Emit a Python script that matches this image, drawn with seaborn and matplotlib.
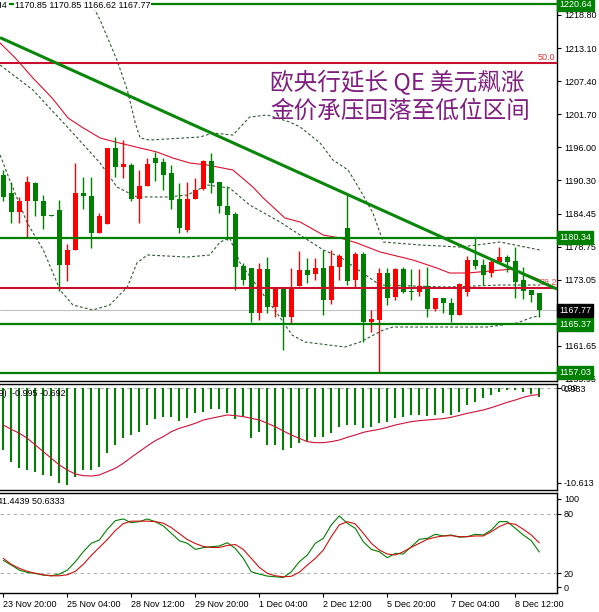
import numpy as np
import pandas as pd
import matplotlib
matplotlib.use("Agg")
import matplotlib.pyplot as plt
import matplotlib.transforms as mtransforms
import seaborn as sns

# ---------------- data ----------------
opens = [1191.2, 1188.1, 1184.7, 1186.6, 1189.8, 1186.7, 1184.1, 1185.1, 1175.6, 1178.2,
         1188.1, 1187.5, 1181.2, 1182.7, 1195.8, 1192.6, 1192.9, 1187.1, 1189.2, 1194.1,
         1193.4, 1191.5, 1187.1, 1181.7, 1187.1, 1188.7, 1193.6, 1189.9, 1185.8, 1184.4,
         1175.5, 1175.1, 1167.3, 1174.9, 1168.3, 1171.8, 1166.6, 1172.0, 1174.8, 1174.1,
         1175.1, 1169.6, 1175.3, 1182.0, 1173.0, 1177.5, 1165.8, 1166.2, 1174.2, 1170.1,
         1174.9, 1171.2, 1171.0, 1172.0, 1168.0, 1169.9, 1169.0, 1167.0, 1171.0, 1176.5,
         1175.7, 1174.3, 1176.2, 1177.0, 1176.4, 1173.0, 1171.3, 1170.85]
highs = [1192.0, 1190.0, 1187.4, 1191.0, 1190.0, 1187.7, 1184.2, 1186.9, 1179.3, 1193.2,
         1190.9, 1190.8, 1184.6, 1195.8, 1197.8, 1197.2, 1193.2, 1192.0, 1194.1, 1195.2,
         1194.1, 1192.9, 1189.7, 1190.0, 1190.6, 1193.8, 1194.9, 1190.0, 1189.2, 1184.7,
         1175.9, 1175.1, 1175.9, 1177.0, 1171.9, 1171.8, 1175.1, 1178.1, 1176.8, 1176.8,
         1178.2, 1178.2, 1177.5, 1188.0, 1177.9, 1177.9, 1167.9, 1175.1, 1175.1, 1175.1,
         1175.3, 1174.9, 1174.9, 1175.3, 1169.9, 1170.0, 1170.0, 1172.5, 1177.1, 1180.5,
         1176.6, 1176.8, 1178.7, 1177.4, 1178.8, 1175.2, 1171.3, 1170.85]
lows = [1186.6, 1182.9, 1182.9, 1180.5, 1184.1, 1181.8, 1184.0, 1171.2, 1172.9, 1178.2,
        1185.3, 1178.5, 1181.2, 1182.7, 1190.8, 1190.6, 1186.6, 1182.8, 1189.2, 1190.2,
        1188.6, 1185.3, 1181.1, 1181.4, 1187.0, 1188.5, 1188.0, 1184.6, 1179.9, 1171.3,
        1172.2, 1165.8, 1166.1, 1167.3, 1166.7, 1160.9, 1165.6, 1172.0, 1172.6, 1173.0,
        1167.0, 1168.9, 1173.0, 1172.2, 1171.9, 1162.4, 1164.1, 1157.0, 1168.7, 1169.5,
        1170.8, 1169.6, 1170.3, 1166.7, 1167.6, 1167.4, 1165.8, 1167.0, 1170.3, 1174.9,
        1172.2, 1173.6, 1175.9, 1174.5, 1169.9, 1169.7, 1169.3, 1166.62]
closes = [1187.4, 1184.7, 1186.7, 1190.0, 1186.6, 1184.1, 1184.1, 1175.6, 1178.2, 1188.0,
          1187.6, 1181.2, 1184.1, 1195.8, 1192.6, 1193.1, 1187.1, 1189.3, 1193.1, 1193.3,
          1191.2, 1186.9, 1182.0, 1187.1, 1188.5, 1193.6, 1189.7, 1185.8, 1184.3, 1175.3,
          1173.0, 1167.3, 1174.9, 1168.4, 1171.9, 1166.6, 1171.8, 1174.8, 1173.9, 1175.1,
          1169.6, 1175.5, 1177.1, 1172.9, 1177.5, 1165.8, 1166.3, 1174.2, 1169.9, 1174.9,
          1171.0, 1170.9, 1172.0, 1168.1, 1169.9, 1169.0, 1167.0, 1172.3, 1176.5, 1175.5,
          1173.9, 1176.2, 1177.0, 1176.2, 1172.7, 1171.2, 1170.4, 1167.77]

# moving average (red) and Bollinger bands (dashed), read at candle positions
ma_x = [-0.4, 1.5, 3.7, 6.1, 8.1, 9.8, 12.1, 14.0, 17.1, 19.2, 21.2, 23.3, 25.5, 28.7,
        31.2, 32.5, 35.2, 37.1, 40.0, 42.1, 44.2, 47.1, 51.2, 54.2, 55.8, 58.0, 63.7, 66.2, 67.1]
ma_y = [1213.96, 1211.37, 1207.92, 1204.47, 1201.01, 1199.46, 1197.56, 1196.87, 1195.83,
        1195.14, 1194.10, 1193.24, 1192.89, 1192.03, 1189.09, 1187.19, 1183.74, 1183.05,
        1180.80, 1180.29, 1179.42, 1177.87, 1176.49, 1175.10, 1174.24, 1174.24, 1174.93,
        1173.55, 1173.03]
bb_up_x = [10.2, 10.8, 12.1, 14.2, 15.5, 16.5, 17.1, 18.3, 24.6, 26.2, 28.7, 30.8, 33.0,
           35.8, 37.1, 39.6, 41.2, 43.1, 44.6, 46.2, 47.5, 52.1, 57.1, 62.1, 67.1]
bb_up_y = [1223.12, 1221.39, 1217.94, 1211.03, 1205.85, 1200.15, 1197.56, 1197.21, 1197.73,
           1198.42, 1198.07, 1201.18, 1201.53, 1200.32, 1199.46, 1196.69, 1193.76, 1192.03,
           1188.58, 1184.60, 1179.59, 1179.08, 1178.73, 1179.59, 1178.21]
bb_mid_x = [-0.4, 3.7, 8.0, 12.1, 14.2, 16.7, 20.5, 23.0, 25.5, 28.3, 30.8, 34.6, 37.1,
            40.0, 42.1, 45.8, 47.1, 55.5, 62.1, 67.1]
bb_mid_y = [1210.16, 1205.85, 1199.46, 1193.24, 1189.09, 1187.37, 1187.37, 1187.71, 1189.44,
            1188.92, 1185.98, 1183.05, 1180.80, 1178.21, 1177.00, 1173.38, 1172.17, 1171.82,
            1172.17, 1172.17]
bb_low_x = [-0.4, 0.8, 3.0, 5.0, 7.1, 8.7, 11.2, 13.3, 15.5, 16.7, 18.0, 23.0, 25.8, 27.1,
            28.3, 29.6, 34.2, 36.1, 37.7, 42.7, 44.6, 47.5, 48.7, 60.5, 64.2, 66.2, 67.1]
bb_low_y = [1194.62, 1190.30, 1182.88, 1178.21, 1171.30, 1168.71, 1167.85, 1168.71, 1171.82,
            1175.97, 1177.35, 1177.00, 1177.35, 1179.59, 1180.29, 1175.97, 1167.33, 1163.53,
            1162.32, 1161.46, 1162.32, 1164.40, 1164.91, 1164.91, 1165.60, 1166.64, 1166.81]

macd_main = [-6.75, -8.03, -8.75, -8.94, -9.12, -9.49, -9.60, -10.33, -10.60, -9.74,
             -8.94, -8.94, -8.58, -7.11, -6.20, -5.47, -5.11, -4.75, -4.02, -3.39,
             -3.10, -3.10, -3.54, -3.28, -2.67, -2.56, -2.30, -2.30, -2.74, -3.39,
             -3.10, -5.47, -4.75, -6.20, -6.20, -6.75, -6.56, -6.02, -5.73, -5.29,
             -5.29, -4.86, -4.20, -4.02, -4.02, -4.38, -4.20, -3.83, -3.65, -3.28,
             -3.10, -2.92, -2.92, -3.03, -2.92, -2.74, -2.92, -2.56, -1.83, -1.47,
             -1.09, -0.73, -0.37, -0.19, -0.19, -0.37, -0.62, -0.995]
macd_signal = [-4.02, -4.49, -4.92, -5.47, -6.20, -6.93, -7.66, -8.39, -8.94, -9.38,
               -9.56, -9.60, -9.49, -9.12, -8.75, -8.21, -7.55, -6.93, -6.31, -5.73,
               -5.29, -4.75, -4.38, -4.12, -3.83, -3.47, -3.28, -3.10, -2.92, -2.99,
               -3.10, -3.28, -3.47, -3.83, -4.20, -4.67, -5.11, -5.47, -5.84, -5.95,
               -5.95, -5.84, -5.66, -5.36, -5.11, -4.82, -4.64, -4.49, -4.27, -4.02,
               -3.83, -3.65, -3.54, -3.47, -3.39, -3.32, -3.17, -2.96, -2.74, -2.56,
               -2.37, -2.12, -1.83, -1.53, -1.28, -0.99, -0.77, -0.692]
stoch_k = [33.0, 28.3, 23.2, 20.9, 19.9, 18.2, 17.5, 19.2, 23.2, 31.6,
           41.7, 50.2, 53.5, 64.3, 73.0, 74.7, 71.0, 72.0, 74.7, 72.0,
           67.7, 60.3, 52.8, 50.2, 44.1, 45.8, 46.8, 47.5, 50.8, 45.1,
           35.0, 21.5, 19.2, 17.2, 16.5, 15.8, 21.5, 31.6, 38.4, 50.2,
           55.2, 68.7, 77.8, 70.4, 65.3, 51.8, 44.1, 41.7, 35.7, 40.1,
           39.4, 46.8, 54.2, 55.2, 59.3, 57.6, 58.6, 56.3, 56.9, 59.3,
           58.6, 63.6, 72.0, 72.0, 65.3, 58.6, 52.8, 41.44]
stoch_d = [35.0, 29.0, 25.0, 22.0, 20.0, 18.5, 17.5, 17.5, 18.5, 22.0,
           29.0, 38.0, 46.0, 54.0, 63.0, 70.0, 72.5, 72.5, 72.5, 72.0,
           70.5, 66.0, 60.0, 54.0, 50.0, 47.0, 46.0, 46.0, 48.0, 49.0,
           44.0, 35.0, 26.0, 20.0, 17.5, 16.5, 17.0, 21.0, 28.3, 35.0,
           43.4, 56.9, 68.7, 72.0, 69.7, 60.3, 50.2, 43.4, 39.4, 38.4,
           41.7, 46.2, 50.2, 54.2, 56.3, 57.6, 57.9, 56.9, 56.9, 57.6,
           57.6, 61.9, 67.0, 70.4, 69.4, 64.3, 58.6, 50.63]

green_levels = [1220.64, 1180.34, 1165.37, 1157.03]
fib_levels = [1210.50, 1171.65]
fib_labels = ["50.0", "38.2"]
bid_price = 1167.77
trend_x = [-0.41, 69.2]
trend_y = [1214.9, 1171.47]

price_ticks = [1218.80, 1213.10, 1207.40, 1201.70, 1196.00, 1190.30,
               1184.45, 1178.75, 1173.05, 1161.65, 1155.95]
time_tick_idx = [0, 8, 16, 24, 32, 40, 48, 56, 64]
time_labels = ["23 Nov 20:00", "25 Nov 04:00", "28 Nov 12:00", "29 Nov 20:00",
               "1 Dec 04:00", "2 Dec 12:00", "5 Dec 20:00", "7 Dec 04:00", "8 Dec 12:00"]
title_lines = ["欧央行延长 QE 美元飙涨", "金价承压回落至低位区间"]
header_main = "1170.85 1170.85 1166.62 1167.77"
header_macd = "-0.995 -0.692"
header_stoch = "1.4439 50.6333"

# ---------------- style ----------------
sns.set_theme(style="white")
plt.rcParams["font.family"] = ["Liberation Sans", "Noto Sans CJK SC", "DejaVu Sans"]
plt.rcParams["axes.edgecolor"] = "black"
plt.rcParams["axes.linewidth"] = 1.0

GREEN = "#008000"
RED = "#ff0000"
FIBRED = "#c8102e"
BBCOL = "#2f5a2f"
FS = 6.5

W, H = 599, 612
fig = plt.figure(figsize=(W / 100, H / 100), dpi=100)
fig.patch.set_facecolor("white")


def fx(px):
    return px / W


def fy(py):
    return 1 - py / H


ax1 = fig.add_axes([0, fy(381), fx(557), 381 / H])
ax2 = fig.add_axes([0, fy(490), fx(557), 106 / H])
ax3 = fig.add_axes([0, fy(593), fx(557), 100 / H])
XL = (-0.4125, 69.2125)
for ax in (ax1, ax2, ax3):
    ax.set_xlim(*XL)
    ax.set_facecolor("white")
    ax.spines["left"].set_visible(False)
    ax.yaxis.tick_right()
    ax.tick_params(axis="y", which="both", direction="out", length=3, width=0.8,
                   pad=2, labelsize=FS, right=True, left=False,
                   labelright=True, labelleft=False, colors="black")
ax1.spines["top"].set_visible(False)

# ---------------- main price panel ----------------
ax1.set_ylim(1155.59, 1221.39)
df = pd.DataFrame({"i": np.arange(len(opens)), "o": opens, "h": highs,
                   "l": lows, "c": closes})
cols = np.where(df["c"] > df["o"], RED, GREEN)
body_lo = np.minimum(df["o"], df["c"])
body_h = np.maximum((df["c"] - df["o"]).abs(), 0.17)

sns.lineplot(x=ma_x, y=ma_y, ax=ax1, color="#e0102e", linewidth=0.8, sort=False, zorder=2)
for bx, by in ((bb_up_x, bb_up_y), (bb_mid_x, bb_mid_y), (bb_low_x, bb_low_y)):
    sns.lineplot(x=bx, y=by, ax=ax1, color=BBCOL, linewidth=0.8,
                 linestyle=(0, (2.5, 2.0)), sort=False, zorder=2)

ax1.vlines(df["i"], df["l"], df["h"], colors=cols, linewidth=1.0, zorder=3)
ax1.bar(df["i"], body_h, bottom=body_lo, width=0.62, color=cols, linewidth=0, zorder=3)

for lv in green_levels:
    ax1.axhline(lv, color=GREEN, linewidth=1.6, zorder=4)
for lv in fib_levels:
    ax1.axhline(lv, color=FIBRED, linewidth=1.5, zorder=4)
ax1.axhline(bid_price, color="#c0c0c0", linewidth=0.8, zorder=1)
ax1.plot(trend_x, trend_y, color="#0a870a", linewidth=2.2, zorder=5,
         solid_capstyle="butt")

ax1.set_yticks(price_ticks)
ax1.set_yticklabels([f"{v:.2f}" for v in price_ticks])
ax1.set_xticks([])
ax1.set_xlabel("")
ax1.set_ylabel("")

blend1 = mtransforms.blended_transform_factory(ax1.transAxes, ax1.transData)
ax1.text(555 / 557, fib_levels[0] + 0.25, fib_labels[0], transform=blend1, ha="right",
         va="bottom", color="#e03030", fontsize=FS, zorder=6)
ax1.text(1.0, fib_levels[1] + 0.25, fib_labels[1], transform=blend1, ha="right",
         va="bottom", color="#e85050", fontsize=FS, zorder=4.5)

for lv in green_levels:
    ax1.text(1.004, lv, f"{lv:.2f}", transform=blend1, ha="left", va="center",
             color="white", fontsize=FS, clip_on=False, zorder=10,
             bbox=dict(boxstyle="square,pad=0.22", fc=GREEN, ec=GREEN))
ax1.text(1.004, bid_price, f"{bid_price:.2f}", transform=blend1, ha="left", va="center",
         color="white", fontsize=FS, clip_on=False, zorder=10,
         bbox=dict(boxstyle="square,pad=0.22", fc="black", ec="black"))

# title text in purple
fig.text(fx(270), fy(83), title_lines[0], ha="left", va="center", fontsize=17,
         color="#7f1f80", family=["Noto Sans CJK SC", "DejaVu Sans"])
fig.text(fx(270), fy(111), title_lines[1], ha="left", va="center", fontsize=17,
         color="#7f1f80", family=["Noto Sans CJK SC", "DejaVu Sans"])

# header
fig.text(fx(8), fy(5), "XAUUSD,H4", ha="right", va="center", fontsize=FS, color="black",
         bbox=dict(boxstyle="square,pad=0.1", fc="white", ec="none"))
fig.text(fx(15), fy(5), header_main, ha="left", va="center", fontsize=FS, color="black",
         bbox=dict(boxstyle="square,pad=0.1", fc="white", ec="none"))

# ---------------- MACD panel ----------------
ax2.set_ylim(-11.13, 0.47)
ax2.axhline(0, color="#b0b0b0", linewidth=0.8, linestyle=(0, (3, 3)), zorder=1)
ax2.bar(np.arange(len(macd_main)), macd_main, width=0.26, color=GREEN, linewidth=0, zorder=2)
sns.lineplot(x=np.arange(len(macd_signal)), y=macd_signal, ax=ax2, color="#d0103a",
             linewidth=0.8, sort=False, zorder=3)
ax2.set_yticks([0.0, -10.35])
ax2.set_yticklabels(["0.933", "-10.613"])
blend2 = mtransforms.blended_transform_factory(ax2.transAxes, ax2.transData)
ax2.text(1.0 + 3.5 / 557, 0.0, "0.99", transform=blend2, ha="left", va="center",
         fontsize=FS, color="black", clip_on=False)
ax2.set_xticks([])
ax2.set_xlabel("")
ax2.set_ylabel("")
fig.text(fx(7), fy(393), "MACD(12,26,9)", ha="right", va="center", fontsize=FS, color="black")
fig.text(fx(12), fy(393), header_macd, ha="left", va="center", fontsize=FS, color="black")

# ---------------- Stochastic panel ----------------
ax3.set_ylim(0.17, 100.84)
for lv in (80, 20):
    ax3.axhline(lv, color="#b0b0b0", linewidth=0.8, linestyle=(0, (3, 3)), zorder=1)
sns.lineplot(x=np.arange(len(stoch_k)), y=stoch_k, ax=ax3, color=GREEN, linewidth=0.8,
             sort=False, zorder=3)
sns.lineplot(x=np.arange(len(stoch_d)), y=stoch_d, ax=ax3, color="#d01010", linewidth=0.8,
             sort=False, zorder=3)
ax3.set_yticks([94.8, 80, 20, 6.2])
ax3.set_yticklabels(["100", "80", "20", "0"])
ax3.set_xticks(time_tick_idx)
ax3.set_xticklabels(time_labels, ha="left")
ax3.tick_params(axis="x", direction="out", length=3, width=0.8, pad=2, labelsize=FS,
                bottom=True, colors="black")
ax3.set_xlabel("")
ax3.set_ylabel("")
fig.text(fx(2), fy(502), "Stoch(5,3,3) 4", ha="right", va="center", fontsize=FS, color="black")
fig.text(fx(2), fy(502), header_stoch, ha="left", va="center", fontsize=FS, color="black")

fig.savefig("out.png", dpi=100, facecolor="white")
